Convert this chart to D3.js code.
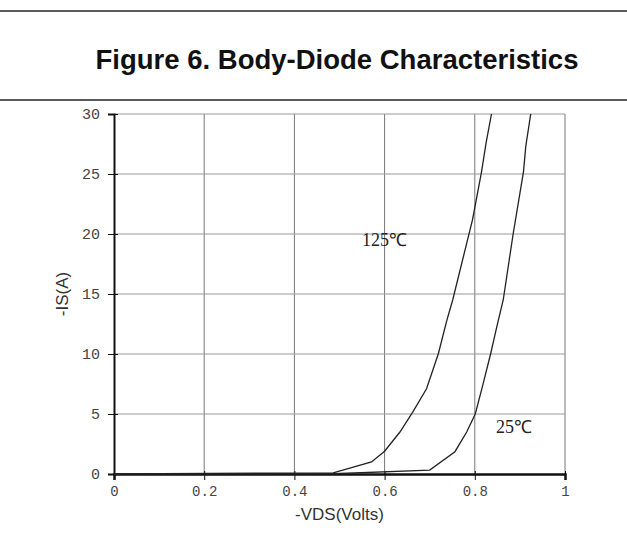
<!DOCTYPE html>
<meta charset="utf-8">
<script src="https://d3js.org/d3.v7.min.js"></script>
<style>
  body { margin: 0; background: #fff; }
</style>
<div id="chart"></div>
<script>

// tick values
var xTicks = [0, 0.2, 0.4, 0.6, 0.8, 1];
var yTicks = [0, 5, 10, 15, 20, 25, 30];

// series: -VDS (V), -IS (A)
var vds125 = [0, 0.486, 0.571, 0.60, 0.634, 0.663, 0.693, 0.719, 0.738, 0.751, 0.795, 0.815, 0.825, 0.837];
var is125  = [0, 0.1,   1.0,   1.9,  3.5,   5.2,   7.1,   10,    12.8,  14.5,  21.2,  25.2,  27.6,  30];

var vds25 = [0, 0.486, 0.70, 0.756, 0.782, 0.801, 0.817, 0.835, 0.849, 0.863, 0.885, 0.908, 0.913, 0.924];
var is25  = [0, 0.02,  0.33, 1.86,  3.5,   5.0,   7.3,   10,    12.3,  14.5,  20,    25.2,  27.3,  30];

var W = 627, H = 536;

var svg = d3.select("#chart")
  .append("svg")
    .attr("width", W)
    .attr("height", H);

// title box lines
svg.append("line").attr("x1", 0).attr("x2", W).attr("y1", 11).attr("y2", 11)
  .attr("stroke", "#222").attr("stroke-width", 1.5);
svg.append("line").attr("x1", 0).attr("x2", W).attr("y1", 100).attr("y2", 100)
  .attr("stroke", "#222").attr("stroke-width", 1.5);

svg.append("text")
  .attr("x", 337)
  .attr("y", 69)
  .attr("text-anchor", "middle")
  .style("font-family", "Liberation Sans, Arial, sans-serif")
  .style("font-weight", "bold")
  .style("font-size", "27.5px")
  .attr("fill", "#111")
  .text("Figure 6. Body-Diode Characteristics");

// scales
var x = d3.scaleLinear().domain([0, 1]).range([114, 565]);
var y = d3.scaleLinear().domain([0, 30]).range([474, 114]);

// grid
svg.append("g")
  .selectAll("line")
  .data(xTicks.slice(1))
  .enter().append("line")
    .attr("x1", function(d) { return x(d); })
    .attr("x2", function(d) { return x(d); })
    .attr("y1", y(30))
    .attr("y2", y(0))
    .attr("stroke", "#777")
    .attr("stroke-width", 1);

svg.append("g")
  .selectAll("line")
  .data(yTicks.slice(1))
  .enter().append("line")
    .attr("x1", x(0))
    .attr("x2", x(1))
    .attr("y1", function(d) { return y(d); })
    .attr("y2", function(d) { return y(d); })
    .attr("stroke", "#999")
    .attr("stroke-width", 1);

// y axis
var yAxis = svg.append("g")
  .attr("transform", "translate(" + x(0) + ",0)")
  .call(d3.axisLeft(y).tickValues(yTicks).tickSize(6).tickPadding(8));
yAxis.select(".domain").attr("stroke", "#111").attr("stroke-width", 2);
yAxis.selectAll(".tick line").attr("stroke", "#111").attr("x2", 4).attr("x1", -6);
yAxis.selectAll(".tick text")
  .style("font-family", "Liberation Mono, monospace")
  .style("font-size", "15px")
  .attr("fill", "#444");

// x axis
var xAxis = svg.append("g")
  .attr("transform", "translate(0," + y(0) + ")")
  .call(d3.axisBottom(x).tickValues(xTicks)
    .tickFormat(function(d) { return d === 0 || d === 1 ? d3.format("d")(d) : d3.format(".1f")(d); })
    .tickSize(6).tickPadding(6));
xAxis.select(".domain").attr("stroke", "#111").attr("stroke-width", 2.5);
xAxis.selectAll(".tick line").attr("stroke", "#111").attr("y1", -3).attr("y2", 6);
xAxis.selectAll(".tick text")
  .style("font-family", "Liberation Mono, monospace")
  .style("font-size", "14px")
  .attr("fill", "#444");

// curves
var line = d3.line()
  .x(function(d) { return x(d[0]); })
  .y(function(d) { return y(d[1]); });

svg.append("path")
  .datum(d3.zip(vds125, is125))
  .attr("d", line)
  .attr("fill", "none")
  .attr("stroke", "#222")
  .attr("stroke-width", 1.3);

svg.append("path")
  .datum(d3.zip(vds25, is25))
  .attr("d", line)
  .attr("fill", "none")
  .attr("stroke", "#222")
  .attr("stroke-width", 1.3);

// curve labels
svg.append("text")
  .attr("x", x(0.55))
  .attr("y", y(19.0))
  .style("font-family", "Liberation Serif, Times New Roman, serif")
  .style("font-size", "18px")
  .attr("fill", "#222")
  .text("125℃");

svg.append("text")
  .attr("x", x(0.847))
  .attr("y", y(3.4))
  .style("font-family", "Liberation Serif, Times New Roman, serif")
  .style("font-size", "18px")
  .attr("fill", "#222")
  .text("25℃");

// axis titles
svg.append("text")
  .attr("transform", "translate(68," + y(15) + ") rotate(-90)")
  .attr("text-anchor", "middle")
  .style("font-family", "Liberation Sans, Arial, sans-serif")
  .style("font-size", "17px")
  .attr("fill", "#333")
  .text("-IS(A)");

svg.append("text")
  .attr("x", x(0.5))
  .attr("y", 520)
  .attr("text-anchor", "middle")
  .style("font-family", "Liberation Sans, Arial, sans-serif")
  .style("font-size", "17px")
  .attr("fill", "#333")
  .text("-VDS(Volts)");

</script>
